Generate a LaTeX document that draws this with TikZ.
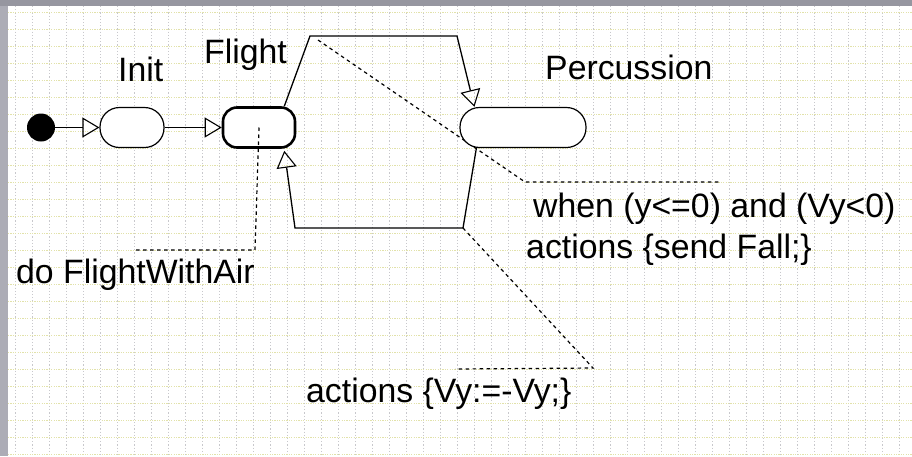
\documentclass[tikz,border=0pt]{standalone}
\usepackage{fontspec}
\setmainfont{Liberation Sans}
\usetikzlibrary{arrows.meta}
\definecolor{frame}{RGB}{172,172,182}
\definecolor{frametop}{RGB}{150,150,160}
\definecolor{hgridc}{RGB}{226,226,170}
\definecolor{vgridc}{RGB}{200,200,204}
\tikzset{
  hgrid/.style={draw=hgridc, line width=0.9pt, dash pattern=on 1.2pt off 1.2pt},
  vgrid/.style={draw=vgridc, line width=0.9pt, dash pattern=on 1.2pt off 2pt},
  statebox/.style={draw=black, fill=white, line width=1.2pt, minimum height=40pt, inner sep=0pt},
  trans/.style={draw=black, line width=1.3pt, -{Triangle[open, length=17pt, width=20pt, line width=1.1pt]}},
  notelink/.style={draw=black, line width=1.2pt, dash pattern=on 3.5pt off 3.5pt},
  lbl/.style={inner sep=0pt, font=\fontsize{33.8}{40}\selectfont, text=black}
}
\begin{document}
\begin{tikzpicture}[x=1pt, y=-1pt]
\useasboundingbox (0,0) rectangle (912,456);
\fill[white] (0,0) rectangle (912,456);
% grid
\foreach \gx in {15,32,...,912} \draw[vgrid] (\gx,6) -- (\gx,456);
\foreach \gy in {12,29,...,456} \draw[hgrid] (8,\gy) -- (912,\gy);
% window frame
\fill[frame] (0,0) rectangle (8,456);
\fill[frametop] (0,0) rectangle (912,6);

% coordinates of bends
\coordinate (u1) at (310,36);
\coordinate (u2) at (457,36);
\coordinate (l1) at (463,228);
\coordinate (l2) at (295,228);
\coordinate (n1a) at (318,40);
\coordinate (n1b) at (525,182);
\coordinate (n1c) at (720,182);
\coordinate (n2b) at (593,368);
\coordinate (n2c) at (455,369);
\coordinate (n3b) at (255,250);
\coordinate (n3c) at (135,250);

% note link hidden behind Percussion
\draw[notelink] (n1a) -- (n1b) -- (n1c);

% states
\node[circle, fill=black, minimum size=28pt, inner sep=0pt] (start) at (41,127.5) {};
\node[statebox, minimum width=64pt, rounded corners=19.5pt] (init) at (132,127.5) {};
\node[statebox, minimum width=72pt, rounded corners=14pt, line width=2.6pt] (flight) at (259,127.5) {};
\node[statebox, minimum width=126pt, rounded corners=19.5pt] (perc) at (523,127.5) {};

% transitions
\draw[trans] (start) -- (init);
\draw[trans] (init) -- (flight);
\draw[trans] ([xshift=-12pt]flight.north east) -- (u1) -- (u2) -- ([xshift=15pt]perc.north west);
\draw[trans] ([xshift=17pt]perc.south west) -- (l1) -- (l2) -- ([xshift=-12pt,yshift=-2pt]flight.south east);

% other note links
\draw[notelink] (l1) -- (n2b) -- (n2c);
\draw[notelink] (flight.center) -- (n3b) -- (n3c);

% labels
\node[lbl, anchor=base west] (initlbl) at (118,81) {Init};
\node[lbl, anchor=base west] (flightlbl) at (204,63) {Flight};
\node[lbl, anchor=base west] (perclbl) at (545,79) {Percussion};
\node[lbl, anchor=base west] (dolbl) at (16,283) {do FlightWithAir};
\node[lbl, anchor=base west] (whenlbl) at (533,217) {when (y<=0) and (Vy<0)};
\node[lbl, anchor=base west] (falllbl) at (526,258) {actions \{send Fall;\}};
\node[lbl, anchor=base west] (vylbl) at (306,402) {actions \{Vy:=-Vy;\}};
\end{tikzpicture}
\end{document}
